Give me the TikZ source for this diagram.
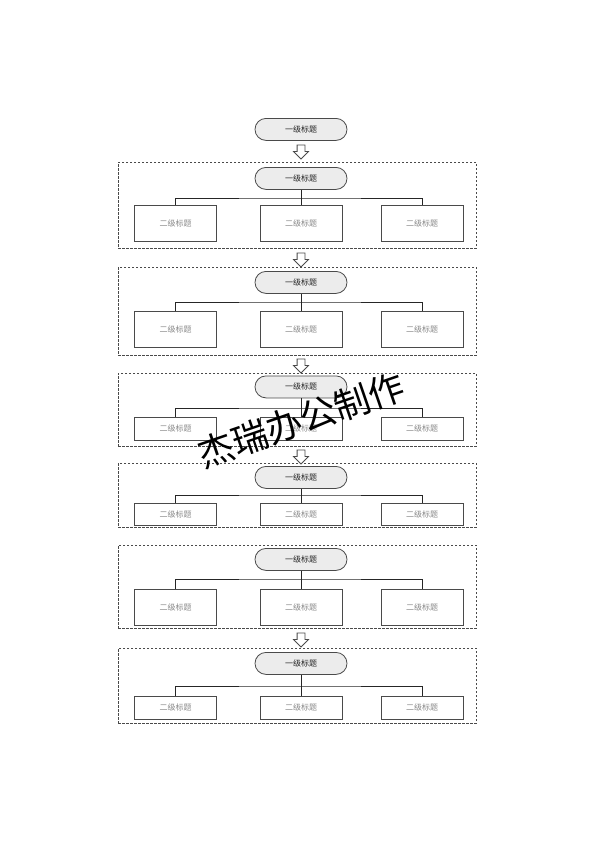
\documentclass[tikz,border=0pt]{standalone}
\usepackage{fontspec}
\setmainfont{Noto Sans CJK SC}
\usetikzlibrary{shapes.arrows,shapes.misc}
\definecolor{lc}{HTML}{4A4A4A}
\definecolor{pf}{HTML}{ECECEC}
\definecolor{ct}{HTML}{8A8A8A}
\tikzset{
  grp/.style={draw=lc, line width=0.8pt, dash pattern=on 2.5pt off 1.5pt, minimum width=358pt, inner sep=0pt},
  pill/.style={draw=lc, fill=pf, line width=0.8pt, rounded rectangle, minimum width=92pt, minimum height=22pt, inner sep=0pt, font=\fontsize{8}{8}\selectfont, text=black!85},
  child/.style={draw=lc, line width=0.8pt, minimum width=82pt, inner sep=0pt, font=\fontsize{8}{8}\selectfont, text=ct},
  conn/.style={draw=black!85, line width=0.9pt},
  blockarrow/.style={draw=lc, fill=white, line width=0.8pt, single arrow, shape border rotate=270, minimum height=14pt, inner sep=3.5pt, single arrow head extend=3.5pt, single arrow head indent=0pt},
  wmark/.style={rotate=19, font=\fontsize{36}{36}\selectfont, text=black}
}
\newcommand\drawsect[8]{%
  \node[grp, minimum height={(#3)-(#2)}] (#1g) at (297,{((#2)+(#3))/2}) {};
  \node[pill, anchor=north] (#1p) at (301,#4) {一级标题};
  \node[child, minimum height=#7, anchor=north] (#1a) at (175.5,#6) {二级标题};
  \node[child, minimum height=#7, anchor=north] (#1b) at (301,#6) {二级标题};
  \node[child, minimum height=#7, anchor=north] (#1c) at (422,#6) {二级标题};
  \coordinate (#1j) at (301,#5);
  \draw[conn] (#1p.south) -- (#1j);
  \draw[conn] (#1a.north) |- (#1j) -| (#1c.north);
  \draw[conn] (#1j) -- (#1b.north);
}
\begin{document}
\begin{tikzpicture}[x=1pt,y=-1pt]
\useasboundingbox[fill=white] (0,0) rectangle (594,841);
\node[pill, anchor=north] (top) at (301,118) {一级标题};
\drawsect{s1}{162}{248}{167}{198}{205}{36}{}
\drawsect{s2}{267}{355}{271}{302}{311}{36}{}
\drawsect{s3}{373}{446}{375.5}{408}{417}{23}{}
\drawsect{s4}{463}{527}{466}{495}{503}{22}{}
\drawsect{s5}{545}{628}{548}{579}{589}{36}{}
\drawsect{s6}{648}{723}{652}{686}{696}{23}{}
\node[blockarrow] (a1) at (301,150) {};
\node[blockarrow] (a2) at (301,258) {};
\node[blockarrow] (a3) at (301,364) {};
\node[blockarrow] (a4) at (301,455) {};
\node[blockarrow] (a5) at (301,638) {};
\node[wmark] (wm) at (301,420) {杰瑞办公制作};
\end{tikzpicture}
\end{document}
